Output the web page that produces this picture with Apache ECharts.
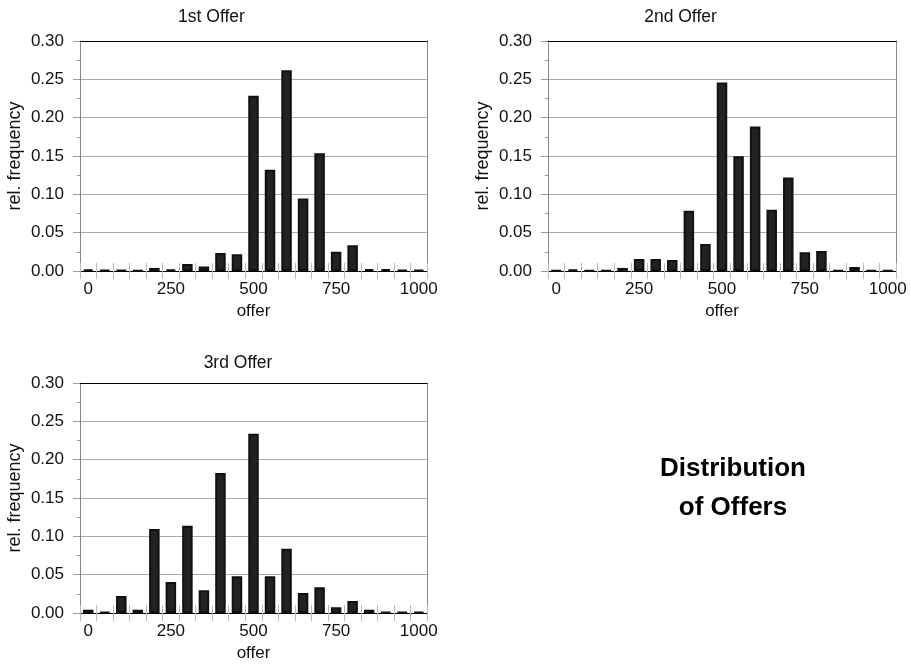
<!DOCTYPE html>
<html>
<head>
<meta charset="utf-8">
<script src="https://cdn.jsdelivr.net/npm/echarts@6/dist/echarts.min.js"></script>
<style>html,body{margin:0;padding:0;background:#fff}#c{width:911px;height:665px}</style>
</head>
<body>
<div id="c"></div>
<script>
const categories = ['0','50','100','150','200','250','300','350','400','450','500','550','600','650','700','750','800','850','900','950','1000'];
const offer1 = [0.002, 0.001, 0.001, 0.0005, 0.004, 0.002, 0.009, 0.006, 0.0235, 0.022, 0.2285, 0.132, 0.262, 0.0945, 0.1535, 0.025, 0.0335, 0.0025, 0.0025, 0.0013, 0.0013];
const offer2 = [0.0005, 0.002, 0.0005, 0.0005, 0.004, 0.0157, 0.0157, 0.0144, 0.0785, 0.0353, 0.246, 0.1496, 0.1884, 0.0798, 0.1221, 0.0244, 0.0262, 0.0005, 0.0052, 0.0005, 0.0005];
const offer3 = [0.0043, 0.001, 0.0222, 0.0043, 0.1096, 0.0404, 0.1139, 0.0296, 0.1826, 0.0478, 0.2339, 0.0478, 0.0839, 0.0261, 0.0335, 0.0074, 0.0157, 0.0043, 0.001, 0.001, 0.001];
const panelTitles = ['1st Offer', '2nd Offer', '3rd Offer'];
const xName = 'offer';
const yName = 'rel. frequency';

const FONT = "'Liberation Sans', Arial, sans-serif";
const chart = echarts.init(document.getElementById('c'));
const grids = [
  {left: 80, top: 41, width: 347, height: 230},
  {left: 548, top: 41, width: 348, height: 230},
  {left: 80, top: 383, width: 347, height: 230}
];
const titlePos = [[211.5, 17], [680.5, 17], [238, 363]];
const seriesData = [offer1, offer2, offer3];

const xAxes = [], yAxes = [], series = [], graphics = [];
grids.forEach((g, p) => {
  xAxes.push({
    gridIndex: p, type: 'category', data: categories, position: 'bottom',
    axisLine: {show: true, lineStyle: {color: '#000', width: 1}},
    axisTick: {show: true, interval: 0, length: 8, lineStyle: {color: '#bbb'}},
    axisLabel: {interval: 4, margin: 10, fontSize: 17, color: '#111', fontFamily: FONT},
    name: xName, nameLocation: 'middle', nameGap: 32,
    nameTextStyle: {fontSize: 17, color: '#111', fontFamily: FONT},
    splitLine: {show: false}
  });
  xAxes.push({
    gridIndex: p, type: 'category', data: categories, position: 'bottom',
    axisLine: {show: false},
    axisTick: {show: true, inside: true, interval: 0, length: 8, lineStyle: {color: '#bbb'}},
    axisLabel: {show: false}, splitLine: {show: false}
  });
  xAxes.push({
    gridIndex: p, type: 'category', data: categories, position: 'top',
    axisLine: {show: true, lineStyle: {color: '#000', width: 1}},
    axisTick: {show: false}, axisLabel: {show: false}, splitLine: {show: false}
  });
  yAxes.push({
    gridIndex: p, type: 'value', min: 0, max: 0.3, interval: 0.05, position: 'left',
    axisLine: {show: true, lineStyle: {color: '#888'}},
    axisTick: {show: true, length: 7, lineStyle: {color: '#999'}},
    minorTick: {show: true, splitNumber: 2, length: 3, lineStyle: {color: '#999'}},
    axisLabel: {margin: 16, fontSize: 17, color: '#111', fontFamily: FONT,
      formatter: v => v.toFixed(2)},
    splitLine: {show: true, lineStyle: {color: '#aaa', width: 1}},
    name: yName, nameLocation: 'middle', nameGap: 56,
    nameTextStyle: {fontSize: 18, color: '#111', fontFamily: FONT}
  });
  yAxes.push({
    gridIndex: p, type: 'value', min: 0, max: 0.3, position: 'right',
    axisLine: {show: true, lineStyle: {color: '#888'}},
    axisTick: {show: false}, axisLabel: {show: false}, splitLine: {show: false}
  });
  series.push({
    type: 'bar', xAxisIndex: p * 3, yAxisIndex: p * 2, data: seriesData[p],
    barWidth: 10.5,
    itemStyle: {color: '#222', borderColor: '#111', borderWidth: 2},
    silent: true, animation: false
  });
  graphics.push({
    type: 'text', x: titlePos[p][0], y: titlePos[p][1],
    style: {text: panelTitles[p], font: '17.5px ' + FONT, fill: '#111',
      textAlign: 'center', textVerticalAlign: 'middle'}
  });
});
graphics.push({
  type: 'text', x: 733, y: 449,
  style: {text: 'Distribution\nof Offers', font: 'bold 26px ' + FONT, fill: '#000',
    textAlign: 'center', textVerticalAlign: 'top', lineHeight: 39}
});

chart.setOption({
  animation: false,
  grid: grids,
  xAxis: xAxes,
  yAxis: yAxes,
  series: series,
  graphic: graphics
});
</script>
</body>
</html>
